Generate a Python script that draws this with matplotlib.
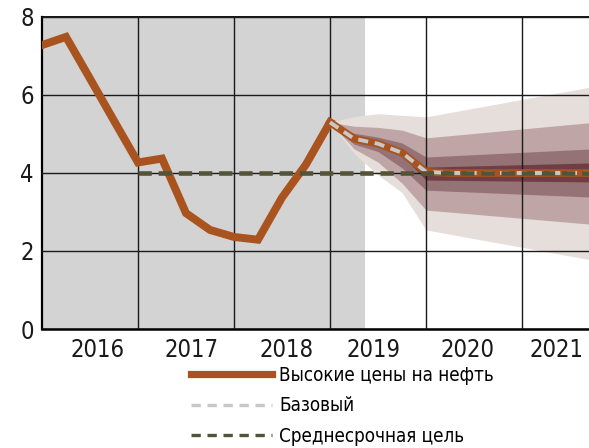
import numpy as np
import matplotlib
matplotlib.use('Agg')
import matplotlib.pyplot as plt
from matplotlib.lines import Line2D

plt.rcParams['font.family'] = ['DejaVu Sans']
plt.rcParams['font.stretch'] = 'condensed'

# quarters, t=0 is the left edge of the chart
t_hist = np.arange(0, 13)
oil_hist = [7.28, 7.49, 6.42, 5.34, 4.27, 4.37, 2.97, 2.54, 2.36, 2.29, 3.37, 4.22, 5.30]

t_fc = np.arange(12, 24)
oil_fc = [5.30, 4.88, 4.75, 4.52, 4.03, 4.0, 4.0, 4.0, 4.0, 4.0, 4.0, 4.0]
base_fc = [5.30, 4.88, 4.75, 4.52, 4.03, 4.0, 4.0, 4.0, 4.0, 4.0, 4.0, 4.0]

t_target = [4, 23]
target = [4.0, 4.0]

# fan chart bands (upper, lower), outer to inner
t_band = [12, 13, 14, 15, 16, 23]
band4_up = [5.30, 5.45, 5.52, 5.48, 5.44, 6.22]
band4_lo = [5.30, 4.50, 3.95, 3.50, 2.54, 1.76]
band3_up = [5.30, 5.20, 5.17, 5.10, 4.90, 5.30]
band3_lo = [5.30, 4.62, 4.28, 3.74, 3.05, 2.68]
band2_up = [5.30, 5.02, 4.92, 4.77, 4.41, 4.62]
band2_lo = [5.30, 4.74, 4.55, 4.13, 3.56, 3.38]
band1_up = [5.30, 4.93, 4.80, 4.60, 4.15, 4.26]
band1_lo = [5.30, 4.84, 4.70, 4.45, 3.82, 3.77]

hist_end = 13.45
year_labels = ['2016', '2017', '2018', '2019', '2020', '2021']
year_pos = [2.3, 6.25, 10.2, 13.8, 17.75, 21.45]

c_oil = '#a9531e'
c_base = '#c8c8c8'
c_target = '#545337'
band_colors = ['#e6dedb', '#bfa5a6', '#957275', '#6f3d42']

fig = plt.figure(figsize=(5.89, 4.48), dpi=100)
ax = fig.add_axes([42/589, 1-329/448, (589-42)/589, (329-17)/448])
ax.set_axisbelow(False)

ax.axvspan(0, hist_end, color='#d3d3d3', lw=0, zorder=0.5)

bands = [(band4_up, band4_lo), (band3_up, band3_lo),
         (band2_up, band2_lo), (band1_up, band1_lo)]
for (up, lo), c in zip(bands, band_colors):
    ax.fill_between(t_band, lo, up, color=c, lw=0, zorder=1)

ax.plot(t_hist, oil_hist, color=c_oil, lw=5.7, solid_joinstyle='miter', zorder=3)
ax.plot(t_fc, oil_fc, color=c_oil, lw=5.5, solid_joinstyle='miter', zorder=3)
ax.plot(t_fc, base_fc, color=c_base, lw=2.8, dashes=(2.6, 1.7), zorder=4)
ax.plot(t_target, target, color=c_target, lw=3.3, dashes=(2.9, 1.5), zorder=5)

ax.set_xlim(0, (589-42)/24)
ax.set_ylim(0, 8)
ax.set_yticks([0, 2, 4, 6, 8])
ax.set_xticks([4, 8, 12, 16, 20])
ax.set_xticklabels([])
ax.grid(True, color='#1a1a1a', lw=1.0)
ax.tick_params(length=0, labelsize=17, pad=6, colors='#1a1a1a')
for yr, xp in zip(year_labels, year_pos):
    ax.text(xp, -0.22, yr, ha='center', va='top', fontsize=17, color='#1a1a1a')

ax.spines['right'].set_visible(False)
ax.spines['left'].set_linewidth(1.6)
ax.spines['bottom'].set_linewidth(1.8)
ax.spines['top'].set_linewidth(1.3)

handles = [Line2D([], [], color=c_oil, lw=5.2),
           Line2D([], [], color=c_base, lw=2.4, dashes=(2.8, 2.0)),
           Line2D([], [], color=c_target, lw=2.4, dashes=(2.8, 2.0))]
labels = ['Высокие цены на нефть', 'Базовый', 'Среднесрочная цель']
fig.legend(handles, labels, loc='upper left', bbox_to_anchor=(191/589, 1-366/448),
           frameon=False, fontsize=13.5, handlelength=4.3, handletextpad=0.4,
           labelspacing=0.6, borderpad=0, borderaxespad=0)

fig.savefig('out.png', dpi=100)
